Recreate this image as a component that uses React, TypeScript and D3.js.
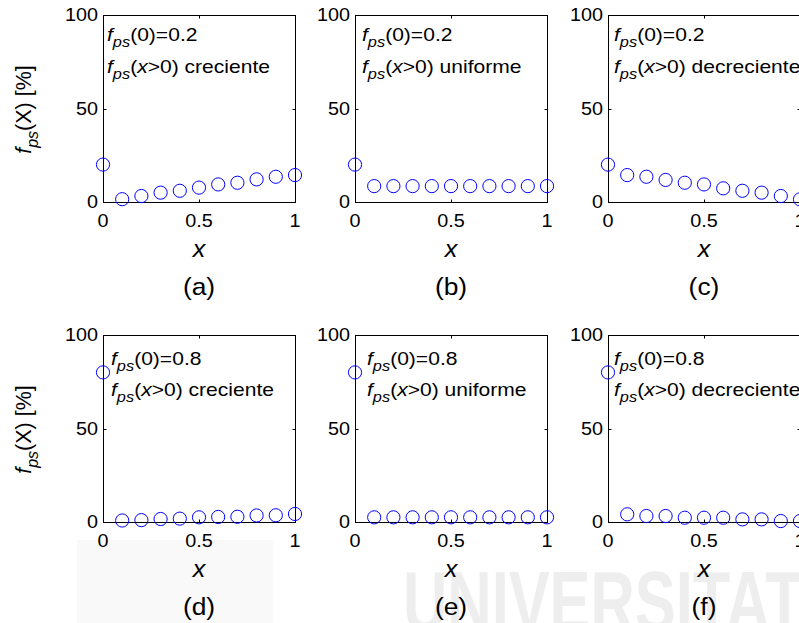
import React from "react";
import * as d3 from "d3";

// ---- data ----
const xValues = [0, 0.1, 0.2, 0.3, 0.4, 0.5, 0.6, 0.7, 0.8, 0.9, 1.0];
const seriesA = [20, 1.5, 3.2, 5.0, 6.0, 7.7, 9.4, 10.3, 12.1, 13.5, 14.4];
const seriesB = [20, 8.5, 8.5, 8.5, 8.5, 8.5, 8.5, 8.5, 8.5, 8.5, 8.5];
const seriesC = [20, 14.4, 13.5, 11.8, 10.3, 9.4, 7.3, 6.0, 5.0, 3.2, 1.4];
const seriesD = [80, 0.8, 1.0, 1.6, 1.8, 2.5, 2.7, 2.8, 3.5, 3.6, 4.3];
const seriesE = [80, 2.5, 2.5, 2.5, 2.5, 2.5, 2.5, 2.5, 2.5, 2.5, 2.5];
const seriesF = [80, 4.1, 3.2, 3.2, 2.3, 2.3, 2.3, 1.4, 1.4, 0.5, 0.5];
const panelLetters = ["(a)", "(b)", "(c)", "(d)", "(e)", "(f)"];
const f0Labels = ["0.2", "0.2", "0.2", "0.8", "0.8", "0.8"];
const shapeLabels = ["creciente", "uniforme", "decreciente", "creciente", "uniforme", "decreciente"];
const xTicks = [0, 0.5, 1];
const yTicks = [0, 50, 100];
const allSeries = [seriesA, seriesB, seriesC, seriesD, seriesE, seriesF];

// ---- layout ----
const W = 799;
const H = 623;
const colLeft = [103, 355, 608];
const rowTop = [15, 335];
const PW = 192;
const PH = 187;
const annotDx = [4, 7, 6, 8, 12, 6];
const annotDy1 = [26, 30];
const annotDy2 = [58, 61];
const FONT = "'Liberation Sans', Arial, Helvetica, sans-serif";
const BLUE = "#0000ff";

function T({ x, y, size, sx = 1, anchor = "start", italic = false, children, fill = "#000" }: any) {
  return (
    <text
      transform={`translate(${x},${y}) scale(${sx},1)`}
      fontSize={size}
      fontFamily={FONT}
      textAnchor={anchor}
      fontStyle={italic ? "italic" : "normal"}
      fill={fill}
    >
      {children}
    </text>
  );
}

function Panel({ idx }: { idx: number }) {
  const col = idx % 3;
  const row = Math.floor(idx / 3);
  const left = colLeft[col];
  const top = rowTop[row];
  const x = d3.scaleLinear().domain([0, 1]).range([left, left + PW]);
  const y = d3.scaleLinear().domain([0, 100]).range([top + PH, top]);
  const vals = allSeries[idx];
  const bottom = top + PH;
  const tl = 3;
  const a1 = top + annotDy1[row];
  const a2 = top + annotDy2[row];
  const aS = 18;
  const subS = 14;
  const aSx = 1.17;
  return (
    <g>
      <rect x={left + 0.5} y={top + 0.5} width={PW} height={PH} fill="#fff" stroke="#000" strokeWidth={1} />
      {xTicks.map((t) => (
        <g key={"xt" + t}>
          <line x1={Math.round(x(t)) + 0.5} x2={Math.round(x(t)) + 0.5} y1={bottom + 0.5} y2={bottom + 0.5 - tl} stroke="#000" />
          <line x1={Math.round(x(t)) + 0.5} x2={Math.round(x(t)) + 0.5} y1={top + 0.5} y2={top + 0.5 + tl} stroke="#000" />
          <T x={x(t)} y={bottom + 25} size={18} sx={1.1} anchor="middle">
            {String(t)}
          </T>
        </g>
      ))}
      {yTicks.map((t) => (
        <g key={"yt" + t}>
          <line x1={left + 0.5} x2={left + 0.5 + tl} y1={Math.round(y(t)) + 0.5} y2={Math.round(y(t)) + 0.5} stroke="#000" />
          <line x1={left + PW + 0.5} x2={left + PW + 0.5 - tl} y1={Math.round(y(t)) + 0.5} y2={Math.round(y(t)) + 0.5} stroke="#000" />
          <T x={left - 5} y={y(t) + 6.4} size={18} sx={1.1} anchor="end">
            {String(t)}
          </T>
        </g>
      ))}
      {vals.map((v, i) => (
        <circle key={i} cx={x(xValues[i])} cy={y(v)} r={6.6} fill="none" stroke={BLUE} strokeWidth={1} />
      ))}
      <text transform={`translate(${left + annotDx[idx]},${a1}) scale(${aSx},1)`} fontSize={aS} fontFamily={FONT}>
        <tspan fontStyle="italic">f</tspan>
        <tspan fontStyle="italic" fontSize={subS} dy={6}>ps</tspan>
        <tspan dy={-6}>(0)={f0Labels[idx]}</tspan>
      </text>
      <text transform={`translate(${left + annotDx[idx]},${a2}) scale(${aSx},1)`} fontSize={aS} fontFamily={FONT}>
        <tspan fontStyle="italic">f</tspan>
        <tspan fontStyle="italic" fontSize={subS} dy={6}>ps</tspan>
        <tspan dy={-6}>(</tspan>
        <tspan fontStyle="italic">x</tspan>
        <tspan>&gt;0) {shapeLabels[idx]}</tspan>
      </text>
      <T x={left + PW / 2} y={bottom + 55} size={24} sx={1.05} anchor="middle" italic>
        x
      </T>
      <T x={left + PW / 2} y={bottom + 93} size={24} sx={1.1} anchor="middle">
        {panelLetters[idx]}
      </T>
      {col === 0 && (
        <text
          transform={`translate(31,${top + PH / 2 + 1}) rotate(-90)`}
          fontSize={21.5}
          fontFamily={FONT}
          textAnchor="middle"
        >
          <tspan fontStyle="italic">f</tspan>
          <tspan fontStyle="italic" fontSize={16} dy={7}>ps</tspan>
          <tspan dy={-7}>(X) [%]</tspan>
        </text>
      )}
    </g>
  );
}

export default function App() {
  return (
    <svg
      width={W}
      height={H}
      viewBox={`0 0 ${W} ${H}`}
      style={{ position: "absolute", left: 0, top: 0, background: "#fff" }}
    >
      <rect x={0} y={0} width={W} height={H} fill="#fff" />
      <rect x={77} y={540} width={196} height={83} fill="#f9f9f9" />
      <text
        x={403}
        y={631}
        fontSize={86}
        fontWeight="bold"
        fontFamily={FONT}
        fill="#eeeeee"
        textLength={400}
        lengthAdjust="spacingAndGlyphs"
      >
        UNIVERSITAT
      </text>
      {[0, 1, 2, 3, 4, 5].map((i) => (
        <Panel key={i} idx={i} />
      ))}
    </svg>
  );
}
